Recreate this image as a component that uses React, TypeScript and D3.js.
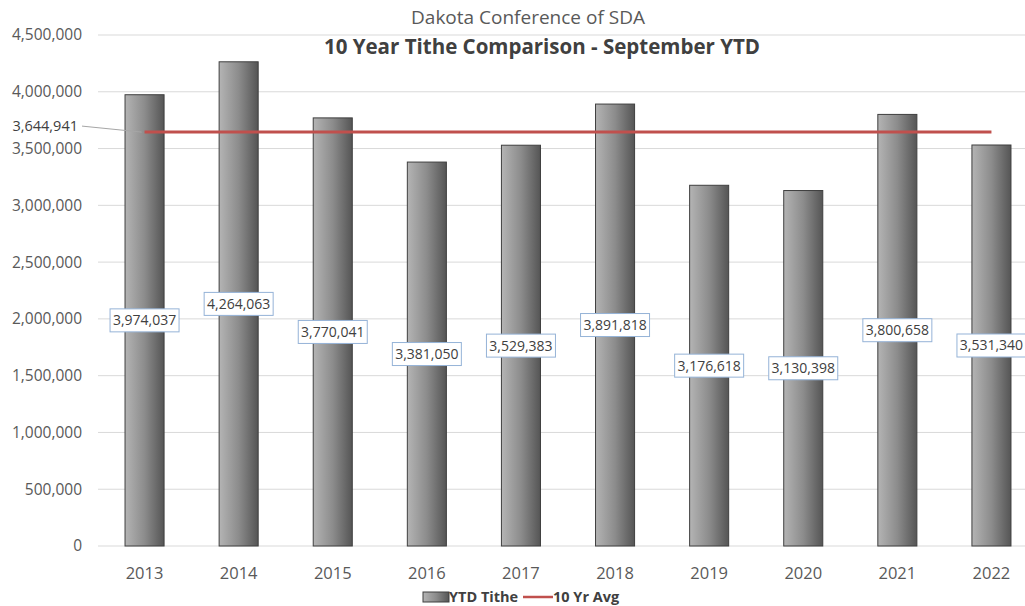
import React from "react";
import * as d3 from "d3";

const years = ["2013", "2014", "2015", "2016", "2017", "2018", "2019", "2020", "2021", "2022"];
const tithe = [3974037, 4264063, 3770041, 3381050, 3529383, 3891818, 3176618, 3130398, 3800658, 3531340];
const avgValue = 3644941;
const yTicks = [0, 500000, 1000000, 1500000, 2000000, 2500000, 3000000, 3500000, 4000000, 4500000];

const W = 1025, H = 606;
const FONT = "'Open Sans', sans-serif";

export default function App() {
  const x = d3.scaleBand<string>().domain(years).range([97.5, 1038.5]).paddingInner(0.585).paddingOuter(0.2925);
  const y = d3.scaleLinear().domain([0, 4500000]).range([546, 35]);
  const fmt = d3.format(",");
  const cx = (d: string) => (x(d) as number) + x.bandwidth() / 2;
  const avgY = y(avgValue);
  const line = d3.line<string>().x(cx).y(() => avgY);

  return (
    <svg width={W} height={H} style={{ position: "absolute", left: 0, top: 0, background: "#fff" }}>
      <defs>
        <linearGradient id="barGrad" x1="0" x2="1" y1="0" y2="0">
          <stop offset="0" stopColor="#b4b4b4" />
          <stop offset="0.5" stopColor="#8c8c8c" />
          <stop offset="1" stopColor="#555555" />
        </linearGradient>
      </defs>
      {yTicks.map((t) => (
        <g key={t}>
          <line x1={98} x2={W} y1={y(t)} y2={y(t)} stroke="#d9d9d9" strokeWidth={1} />
          <text x={82} y={y(t)} dy="0.35em" textAnchor="end" fontFamily={FONT} fontSize={15.5} fill="#595959">
            {fmt(t)}
          </text>
        </g>
      ))}
      {years.map((yr, i) => (
        <rect key={yr} x={x(yr)} y={y(tithe[i])} width={x.bandwidth()} height={y(0) - y(tithe[i])}
          fill="url(#barGrad)" stroke="#3f3f3f" strokeWidth={1} />
      ))}
      <path d={line(years) as string} fill="none" stroke="#c0504d" strokeWidth={3} />
      <line x1={82} y1={avgY - 6} x2={cx(years[0]) - 3} y2={avgY} stroke="#a6a6a6" strokeWidth={1} />
      <text x={78} y={avgY - 6} dy="0.35em" textAnchor="end" fontFamily={FONT} fontSize={14.5} fill="#404040">
        {fmt(avgValue)}
      </text>
      {years.map((yr, i) => {
        const ly = y(tithe[i] / 2);
        const lw = 69, lh = 23;
        return (
          <g key={"l" + yr}>
            <rect x={cx(yr) - lw / 2} y={ly - lh / 2} width={lw} height={lh} fill="#fff" stroke="#95b3d7" strokeWidth={1} />
            <text x={cx(yr)} y={ly} dy="0.35em" textAnchor="middle" fontFamily={FONT} fontSize={14} fill="#404040">
              {fmt(tithe[i])}
            </text>
          </g>
        );
      })}
      {years.map((yr) => (
        <text key={"x" + yr} x={cx(yr)} y={573} dy="0.35em" textAnchor="middle" fontFamily={FONT} fontSize={16.5} fill="#595959">
          {yr}
        </text>
      ))}
      <text x={528} y={17} dy="0.35em" textAnchor="middle" fontFamily={FONT} fontSize={19} fill="#595959">
        Dakota Conference of SDA
      </text>
      <text x={542} y={47} dy="0.35em" textAnchor="middle" fontFamily={FONT} fontSize={20.5} fontWeight="bold" fill="#404040">
        10 Year Tithe Comparison - September YTD
      </text>
      <g>
        <rect x={423} y={592} width={26} height={10} fill="url(#barGrad)" stroke="#3f3f3f" strokeWidth={1} />
        <text x={449} y={597} dy="0.35em" fontFamily={FONT} fontSize={14.5} fontWeight="bold" fill="#404040">YTD Tithe</text>
        <line x1={523} x2={553} y1={597} y2={597} stroke="#c0504d" strokeWidth={2.5} />
        <text x={553} y={597} dy="0.35em" fontFamily={FONT} fontSize={14.5} fontWeight="bold" fill="#404040">10 Yr Avg</text>
      </g>
    </svg>
  );
}
